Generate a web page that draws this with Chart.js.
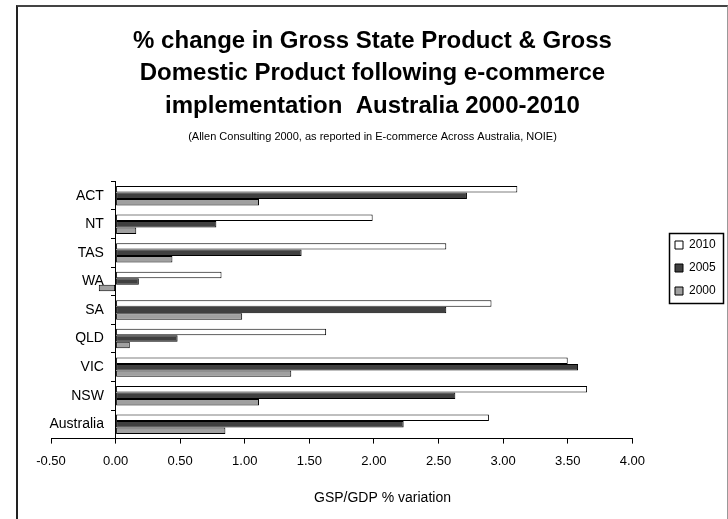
<!DOCTYPE html>
<html>
<head>
<meta charset="utf-8">
<script src="https://cdn.jsdelivr.net/npm/chart.js@4.4.0/dist/chart.umd.min.js"></script>
<style>
	body { margin:0; background:#fff; }
	#frame { position:absolute; left:16px; top:5px; width:709px; height:540px;
		border-left:2px solid #222; border-top:2px solid #444; border-right:1px solid #999; }
	#c { position:absolute; left:0; top:0; }
</style>
</head>
<body>
<div id="frame"></div>
<canvas id="c" width="728" height="519"></canvas>
<script>
var regions = ["ACT", "NT", "TAS", "WA", "SA", "QLD", "VIC", "NSW", "Australia"];
var years = ["2010", "2005", "2000"];
var gsp2010 = [3.11, 1.99, 2.56, 0.82, 2.91, 1.63, 3.50, 3.65, 2.89];
var gsp2005 = [2.72, 0.78, 1.44, 0.18, 2.56, 0.48, 3.58, 2.63, 2.23];
var gsp2000 = [1.11, 0.16, 0.44, -0.13, 0.98, 0.11, 1.36, 1.11, 0.85];
var xTickVals = [-0.5, 0, 0.5, 1, 1.5, 2, 2.5, 3, 3.5, 4];
var fills = ["#ffffff", "#404040", "#a0a0a0"];

var FONT = "'Liberation Sans', Arial, sans-serif";

// legend sits in its own bordered box, to the right of the plot
var legendBox = {
	id: "legendBox",
	afterLayout(chart) {
		var lg = chart.legend;
		var w = lg.width, h = lg.height;
		lg.left = 664; lg.right = lg.left + w;
		lg.top = 228; lg.bottom = lg.top + h;
	},
	afterDraw(chart) {
		var hb = chart.legend.legendHitBoxes;
		if (!hb.length) return;
		var l = hb[0].left - 6, t = hb[0].top - 6;
		var r = Math.max.apply(null, hb.map(b => b.left + b.width)) + 7;
		var b = hb[hb.length - 1].top + hb[hb.length - 1].height + 6;
		var ctx = chart.ctx;
		ctx.save();
		ctx.strokeStyle = "#000";
		ctx.lineWidth = 1.5;
		ctx.strokeRect(Math.round(l) + 0.5, Math.round(t) + 0.5, Math.round(r - l), Math.round(b - t));
		ctx.restore();
	}
};

var ctx = document.getElementById("c").getContext("2d");
var chart = new Chart(ctx, {
	type: "bar",
	data: {
		labels: regions,
		datasets: [gsp2010, gsp2005, gsp2000].map((d, i) => ({
			label: years[i],
			data: d,
			backgroundColor: fills[i],
			borderColor: "#000",
			borderWidth: 1,
			borderSkipped: false,
			categoryPercentage: 0.68,
			barPercentage: 1
		}))
	},
	options: {
		indexAxis: "y",
		responsive: false,
		animation: false,
		layout: { padding: { left: 51, right: 34, top: 25, bottom: 12 } },
		scales: {
			x: {
				min: -0.5, max: 4,
				afterBuildTicks: s => { s.ticks = xTickVals.map(v => ({value: v})); },
				grid: { drawOnChartArea: false, tickLength: 5, color: "#000" },
				border: { color: "#000" },
				ticks: { font: { family: FONT, size: 13 }, color: "#000", padding: 10,
					callback: v => Number(v).toFixed(2) },
				// axis title sits right of the plot centre
				title: { display: true, text: "GSP/GDP % variation".padStart(40, " "), color: "#000",
					font: { family: FONT, size: 14 }, padding: { top: 11, bottom: 0 } }
			},
			y: {
				position: { x: 0 },
				grid: { drawOnChartArea: false, tickLength: 4, color: "#000", offset: true },
				border: { color: "#000" },
				// labels hang off the zero line, keep a gap before it
				ticks: { font: { family: FONT, size: 14 }, color: "#000",
					callback: function(v) { return this.getLabelForValue(v) + "   "; } }
			}
		},
		plugins: {
			title: {
				display: true,
				text: ["% change in Gross State Product & Gross",
					"Domestic Product following e-commerce",
					"implementation  Australia 2000-2010"],
				color: "#000",
				font: { family: FONT, size: 24, weight: "bold", lineHeight: 1.35 },
				padding: { top: 0, bottom: 8 }
			},
			subtitle: {
				display: true,
				text: "(Allen Consulting 2000, as reported in E-commerce Across Australia, NOIE)",
				color: "#000",
				font: { family: FONT, size: 11 },
				padding: { top: 0, bottom: 38 }
			},
			legend: {
				position: "right",
				align: "start",
				labels: { boxWidth: 8, boxHeight: 8, padding: 11, color: "#000",
					font: { family: FONT, size: 12 } }
			},
			tooltip: { enabled: false }
		}
	},
	plugins: [legendBox]
});
</script>
</body>
</html>
